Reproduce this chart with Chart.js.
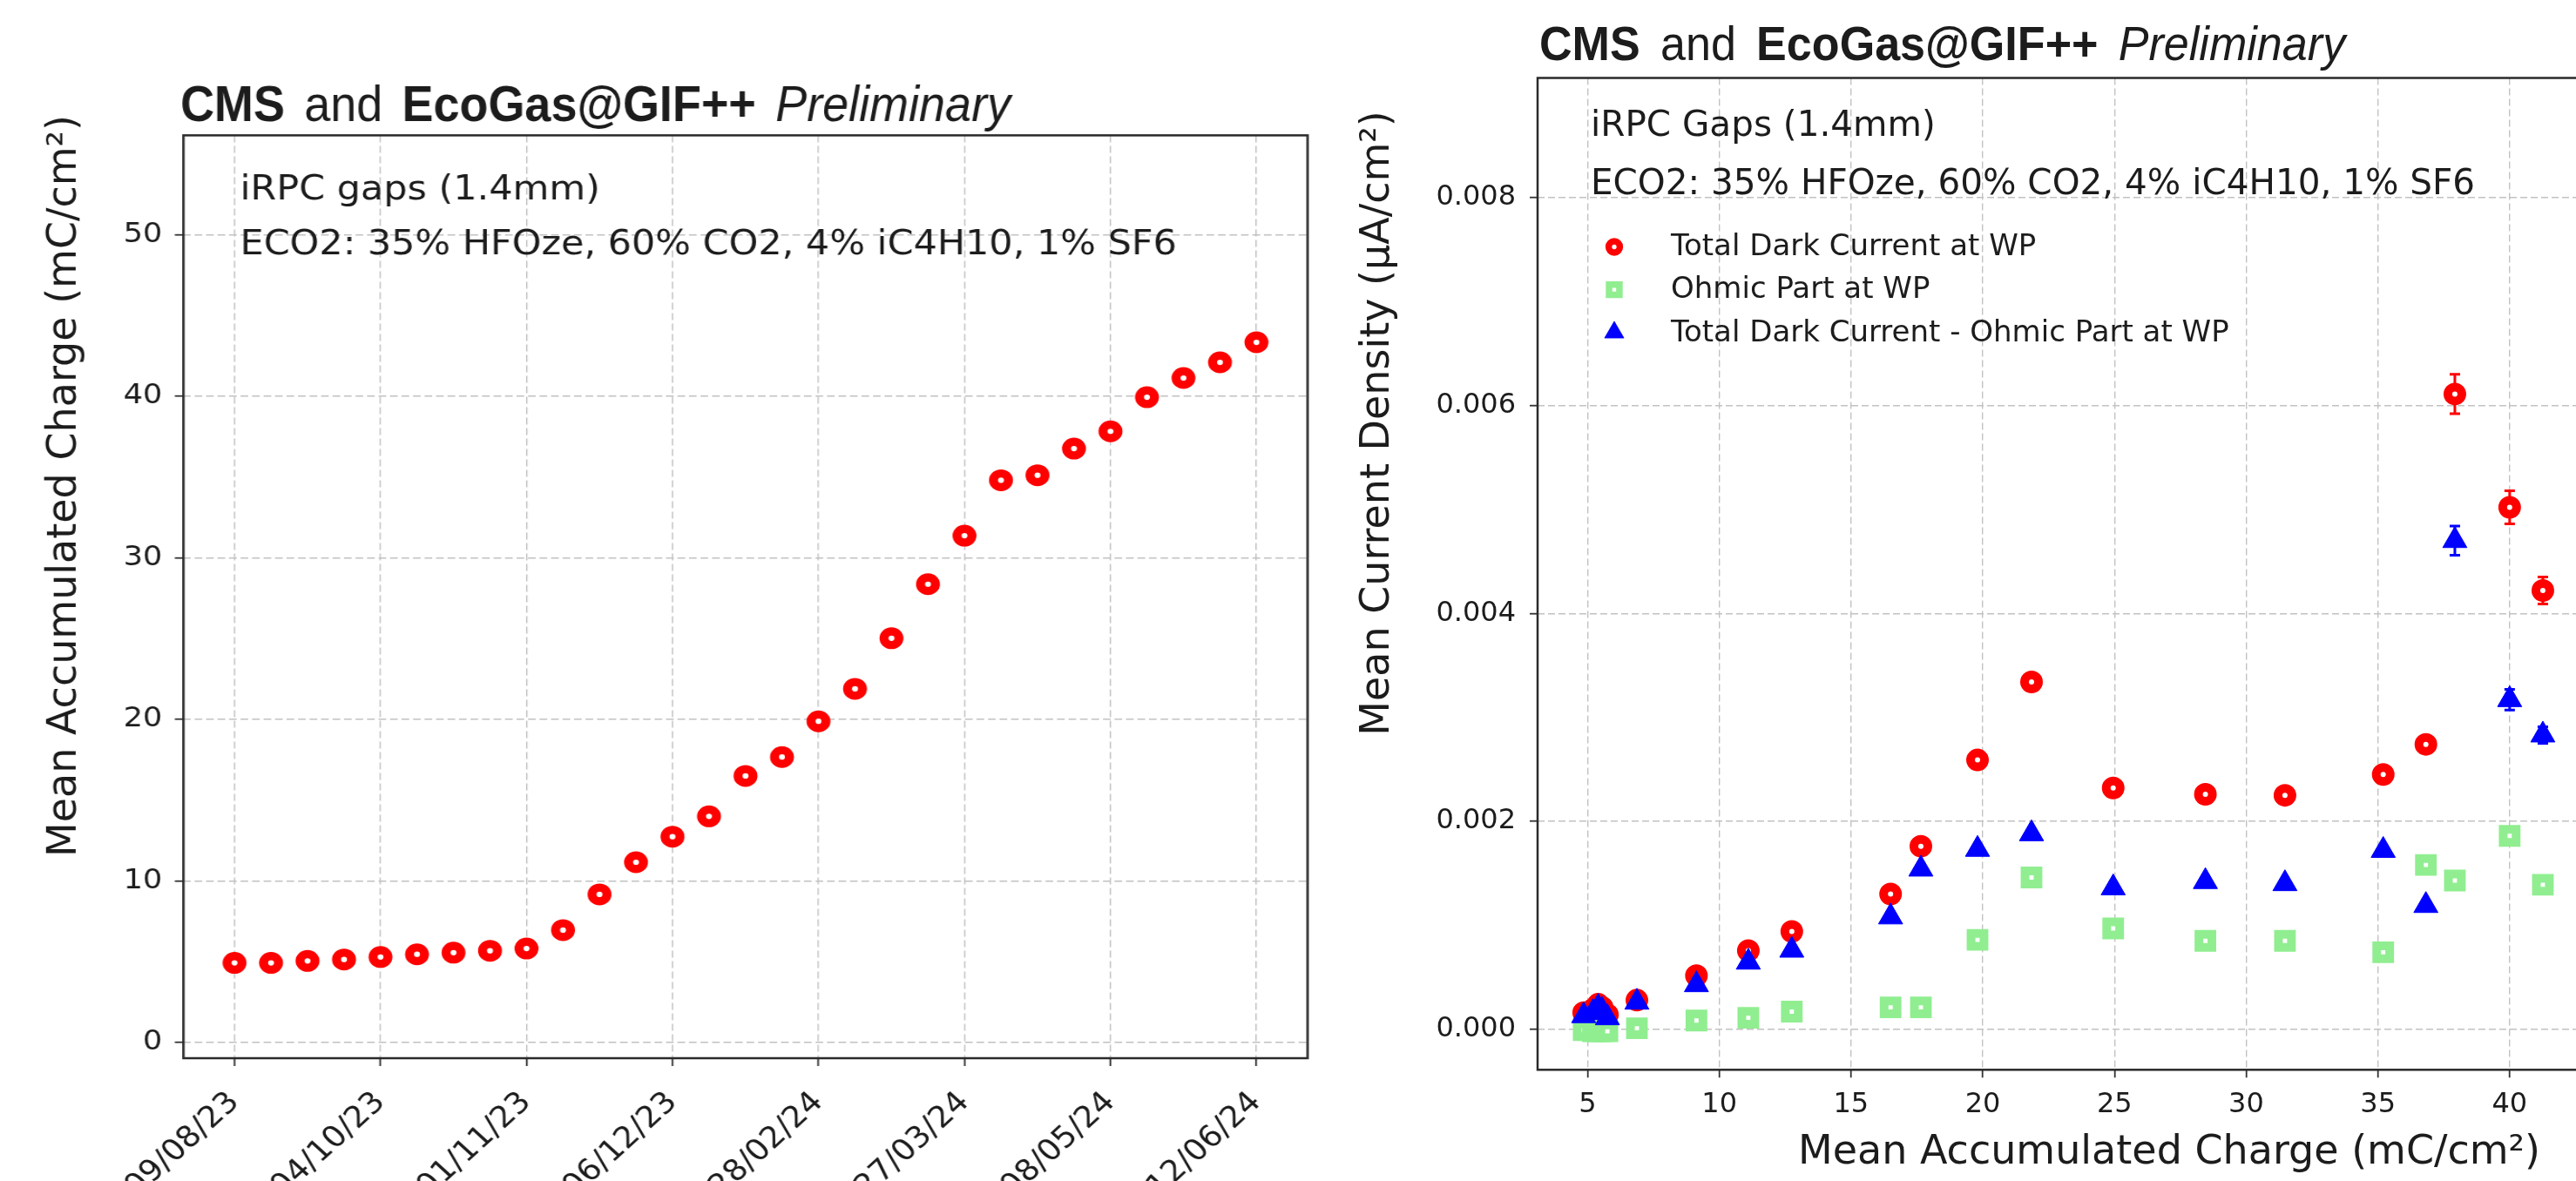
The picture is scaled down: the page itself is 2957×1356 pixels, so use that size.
<!DOCTYPE html>
<html>
<head>
<meta charset="utf-8">
<script src="https://cdn.jsdelivr.net/npm/chart.js@4.4.1/dist/chart.umd.min.js"></script>
<style>
  html, body { margin: 0; padding: 0; background: #fff; overflow: hidden; width: 2957px; height: 1356px; }
  #leftBox { position: absolute; left: 0; top: 0; width: 1385px; height: 1356px; transform: scaleX(1.1); transform-origin: 0 0; }
  #rightBox { position: absolute; left: 1540px; top: 0; width: 1700px; height: 1356px; }
  canvas { display: block; }
</style>
</head>
<body>
<div id="leftBox"><canvas id="accCharge" width="1385" height="1356"></canvas></div>
<div id="rightBox"><canvas id="darkCurrent" width="1700" height="1356"></canvas></div>

<script>
// ---- left panel data: mean accumulated charge, one point per measurement
const dateTicks = ['09/08/23', '04/10/23', '01/11/23', '06/12/23', '28/02/24', '27/03/24', '08/05/24', '12/06/24'];
const accCharge = [4.93, 4.93, 5.05, 5.14, 5.29, 5.46, 5.56, 5.68, 5.82, 6.96, 9.17, 11.16, 12.74, 14.0,
                   16.5, 17.67, 19.88, 21.89, 25.02, 28.37, 31.37, 34.80, 35.11, 36.76, 37.83, 39.94,
                   41.13, 42.10, 43.34];
const leftYTicks = [0, 10, 20, 30, 40, 50];

// ---- right panel data: current density vs accumulated charge
const chargeAtWP = [4.85, 5.2, 5.4, 5.55, 5.75, 6.87, 9.13, 11.1, 12.75, 16.5, 17.65, 19.8, 21.85,
                    24.95, 28.45, 31.47, 35.2, 36.82, 37.92, 40.0, 41.26];
const totalDark = [0.00016, 0.00019, 0.00024, 0.00021, 0.00014, 0.00028, 0.000515, 0.000756, 0.00094,
                   0.0013, 0.00176, 0.00259, 0.00334, 0.00232, 0.00226, 0.00225, 0.00245, 0.00274,
                   0.00611, 0.00502, 0.00422];
const ohmicPart = [-0.00001, -0.00002, -0.00002, -0.00002, -0.00002, 0.00001, 0.000084, 0.00011, 0.00017,
                   0.00021, 0.00021, 0.00086, 0.00146, 0.00097, 0.00085, 0.00085, 0.00074, 0.00158,
                   0.00143, 0.00186, 0.00139];
const darkMinusOhmic = [0.00013, 0.00016, 0.00021, 0.00018, 0.00011, 0.00026, 0.000428, 0.000645, 0.00076,
                        0.00108, 0.00154, 0.00173, 0.00188, 0.00136, 0.00142, 0.0014, 0.00172, 0.00119,
                        0.0047, 0.00317, 0.00283];
const totalDarkErr = [0.00003, 0.00003, 0.00003, 0.00003, 0.00003, 0.00003, 0.00003, 0.00003, 0.00003,
                      0.00003, 0.00003, 0.00003, 0.00003, 0.00003, 0.00003, 0.00003, 0.00003, 0.00003,
                      0.00019, 0.00016, 0.00013];
const diffErr = [0.00003, 0.00003, 0.00003, 0.00003, 0.00003, 0.00003, 0.00003, 0.00003, 0.00003,
                 0.00003, 0.00003, 0.00003, 0.00003, 0.00003, 0.00003, 0.00003, 0.00003, 0.00003,
                 0.00014, 0.0001, 0.00008];
const rightXTicks = [5, 10, 15, 20, 25, 30, 35, 40, 45, 50];
const rightYTicks = [0, 0.002, 0.004, 0.006, 0.008];

const STRETCH = 1.1;   // left panel of the reference is stretched sideways
const TXT = '#1c1c1c';
const GRID = '#c2c2c2';

function xy(xs, ys) {
  return xs.map((x, i) => ({x: x, y: ys[i]}));
}

// box round the plot area
const framePlugin = {
  id: 'frame',
  afterDatasetsDraw(chart) {
    const ctx = chart.ctx, a = chart.chartArea;
    ctx.save();
    ctx.strokeStyle = '#2a2a2a';
    ctx.lineWidth = 2.5;
    ctx.strokeRect(a.left, a.top, a.right - a.left, a.bottom - a.top);
    ctx.restore();
  }
};

// vertical error bars, read from dataset.errorBars
const errorBarPlugin = {
  id: 'errorBars',
  beforeDatasetsDraw(chart) {
    const ctx = chart.ctx, xs = chart.scales.x, ys = chart.scales.y;
    chart.data.datasets.forEach(ds => {
      if (!ds.errorBars) return;
      ctx.save();
      ctx.strokeStyle = ds.pointBorderColor;
      ctx.lineWidth = 3;
      ds.data.forEach((p, i) => {
        const e = ds.errorBars[i];
        const px = xs.getPixelForValue(p.x);
        const y1 = ys.getPixelForValue(p.y - e), y2 = ys.getPixelForValue(p.y + e);
        ctx.beginPath();
        ctx.moveTo(px, y1); ctx.lineTo(px, y2);
        ctx.moveTo(px - 6, y1); ctx.lineTo(px + 6, y1);
        ctx.moveTo(px - 6, y2); ctx.lineTo(px + 6, y2);
        ctx.stroke();
      });
      ctx.restore();
    });
  }
};

// free text: titles, notes, y titles
function makeOverlay(items, stretch) {
  return {
    id: 'overlay',
    afterDraw(chart) {
      const ctx = chart.ctx;
      items.forEach(it => {
        ctx.save();
        if (it.flat) ctx.scale(1 / stretch, 1);
        ctx.translate(it.x, it.y);
        if (it.rot) ctx.rotate(it.rot);
        if (it.sx) ctx.scale(it.sx, 1);
        ctx.fillStyle = TXT;
        ctx.textAlign = it.align || 'left';
        ctx.textBaseline = it.baseline || 'alphabetic';
        let cx = 0;
        it.parts.forEach(p => {
          ctx.font = (p.style || 'normal') + ' ' + (p.weight || 'normal') + ' ' + it.size + 'px ' + (it.family || 'DejaVu Sans');
          ctx.fillText(p.t, cx, 0);
          cx += ctx.measureText(p.t).width + (it.gap || 0);
        });
        ctx.restore();
      });
    }
  };
}

function titleParts() {
  return [
    {t: 'CMS', weight: 'bold'},
    {t: 'and'},
    {t: 'EcoGas@GIF++', weight: 'bold'},
    {t: 'Preliminary', style: 'italic'}
  ];
}

function marker(ctx, style, x, y, r, bw, fill, stroke) {
  ctx.beginPath();
  if (style === 'circle') {
    ctx.arc(x, y, r, 0, Math.PI * 2);
  } else if (style === 'triangle') {
    ctx.moveTo(x, y - r);
    ctx.lineTo(x + r * 0.866, y + r / 2);
    ctx.lineTo(x - r * 0.866, y + r / 2);
    ctx.closePath();
  } else {
    const h = r * 0.707;
    ctx.rect(x - h, y - h, 2 * h, 2 * h);
  }
  ctx.fillStyle = fill;
  ctx.fill();
  if (bw) {
    ctx.lineWidth = bw;
    ctx.strokeStyle = stroke;
    ctx.stroke();
  }
}

// legend inside the plot, top left
const legendPlugin = {
  id: 'innerLegend',
  afterDraw(chart) {
    const ctx = chart.ctx;
    const rows = [283.5, 332.6, 381.7];
    chart.data.datasets.forEach((ds, i) => {
      ctx.save();
      marker(ctx, ds.pointStyle, 313, rows[i], ds.pointRadius * 0.8, ds.pointBorderWidth * 0.75,
             ds.pointBackgroundColor, ds.pointBorderColor);
      ctx.fillStyle = TXT;
      ctx.font = '34px DejaVu Sans';
      ctx.textBaseline = 'middle';
      ctx.fillText(ds.label, 378, rows[i] + 1);
      ctx.restore();
    });
  }
};

function gridOpts() {
  return { color: GRID, lineWidth: 1.4, tickLength: 9, tickColor: '#333', tickWidth: 1.8, tickBorderDash: [] };
}

// ---------------- left chart
new Chart(document.getElementById('accCharge'), {
  type: 'scatter',
  data: {
    datasets: [{
      data: accCharge.map((v, i) => ({x: i, y: v})),
      pointStyle: 'circle',
      pointRadius: 7.8,
      pointBorderWidth: 9.4,
      pointBorderColor: '#ff0000',
      pointBackgroundColor: '#ffffff'
    }]
  },
  options: {
    responsive: false, animation: false, devicePixelRatio: 1, events: [],
    layout: { padding: { left: 0, top: 155.4, right: 20.5, bottom: 0 } },
    plugins: { legend: { display: false }, tooltip: { enabled: false } },
    scales: {
      x: {
        type: 'linear', min: -1.4, max: 29.4,
        afterBuildTicks: s => { s.ticks = dateTicks.map((d, k) => ({value: 4 * k})); },
        afterFit: s => { s.height = 141; },
        ticks: {
          callback: v => dateTicks[v / 4],
          autoSkip: false, minRotation: 45, maxRotation: 45,
          font: { family: 'DejaVu Sans', size: 34 }, color: TXT, padding: 22
        },
        grid: gridOpts(),
        border: { display: false, dash: [8, 4] }
      },
      y: {
        min: -0.97, max: 56.15,
        afterBuildTicks: s => { s.ticks = leftYTicks.map(v => ({value: v})); },
        afterFit: s => { s.width = 191.4; },
        ticks: { font: { family: 'DejaVu Sans', size: 32 }, color: TXT, padding: 13 },
        grid: gridOpts(),
        border: { display: false, dash: [8, 4] }
      }
    }
  },
  plugins: [framePlugin, makeOverlay([
    { flat: true, x: 207, y: 139, size: 58, sx: 0.93, family: 'Liberation Sans', gap: 24, parts: titleParts() },
    { x: 250.5, y: 229, size: 39, parts: [{t: 'iRPC gaps (1.4mm)'}] },
    { x: 250.5, y: 292.4, size: 39, parts: [{t: 'ECO2: 35% HFOze, 60% CO2, 4% iC4H10, 1% SF6'}] },
    { flat: true, x: 75, y: 558, rot: -Math.PI / 2, size: 46, align: 'center', baseline: 'middle',
      parts: [{t: 'Mean Accumulated Charge (mC/cm²)'}] }
  ], STRETCH)]
});

// ---------------- right chart
new Chart(document.getElementById('darkCurrent'), {
  type: 'scatter',
  data: {
    datasets: [
      {
        label: 'Total Dark Current at WP',
        data: xy(chargeAtWP, totalDark),
        errorBars: totalDarkErr,
        pointStyle: 'circle', pointRadius: 8, pointBorderWidth: 10,
        pointBorderColor: '#ff0000', pointBackgroundColor: '#ffffff',
        order: 3
      },
      {
        label: 'Ohmic Part at WP',
        data: xy(chargeAtWP, ohmicPart),
        pointStyle: 'rect', pointRadius: 10.5, pointBorderWidth: 10,
        pointBorderColor: '#90ee90', pointBackgroundColor: '#ffffff',
        order: 2
      },
      {
        label: 'Total Dark Current - Ohmic Part at WP',
        data: xy(chargeAtWP, darkMinusOhmic),
        errorBars: diffErr,
        pointStyle: 'triangle', pointRadius: 16, pointBorderWidth: 1,
        pointBorderColor: '#0000ff', pointBackgroundColor: '#0000ff',
        order: 1
      }
    ]
  },
  options: {
    responsive: false, animation: false, devicePixelRatio: 1, events: [],
    layout: { padding: { left: 0, top: 89.5, right: 25, bottom: 0 } },
    plugins: { legend: { display: false }, tooltip: { enabled: false } },
    scales: {
      x: {
        type: 'linear', min: 3.1, max: 51.05,
        afterBuildTicks: s => { s.ticks = rightXTicks.map(v => ({value: v})); },
        afterFit: s => { s.height = 127.7; },
        ticks: { font: { family: 'DejaVu Sans', size: 32 }, color: TXT, padding: 12 },
        title: {
          display: true, text: 'Mean Accumulated Charge (mC/cm²)',
          font: { family: 'DejaVu Sans', size: 46 }, color: TXT, padding: { top: 0, bottom: 4 }
        },
        grid: gridOpts(),
        border: { display: false, dash: [8, 4] }
      },
      y: {
        min: -0.00039, max: 0.00915,
        afterBuildTicks: s => { s.ticks = rightYTicks.map(v => ({value: v})); },
        afterFit: s => { s.width = 225; },
        ticks: { callback: v => v.toFixed(3), font: { family: 'DejaVu Sans', size: 32 }, color: TXT, padding: 16 },
        grid: gridOpts(),
        border: { display: false, dash: [8, 4] }
      }
    }
  },
  plugins: [errorBarPlugin, framePlugin, legendPlugin, makeOverlay([
    { x: 227, y: 69, size: 56, sx: 0.93, family: 'Liberation Sans', gap: 25, parts: titleParts() },
    { x: 286, y: 156, size: 40.5, parts: [{t: 'iRPC Gaps (1.4mm)'}] },
    { x: 286, y: 223, size: 40.5, parts: [{t: 'ECO2: 35% HFOze, 60% CO2, 4% iC4H10, 1% SF6'}] },
    { x: 42.5, y: 486, rot: -Math.PI / 2, size: 46, align: 'center', baseline: 'middle',
      parts: [{t: 'Mean Current Density (μA/cm²)'}] }
  ], 1)]
});
</script>
</body>
</html>
